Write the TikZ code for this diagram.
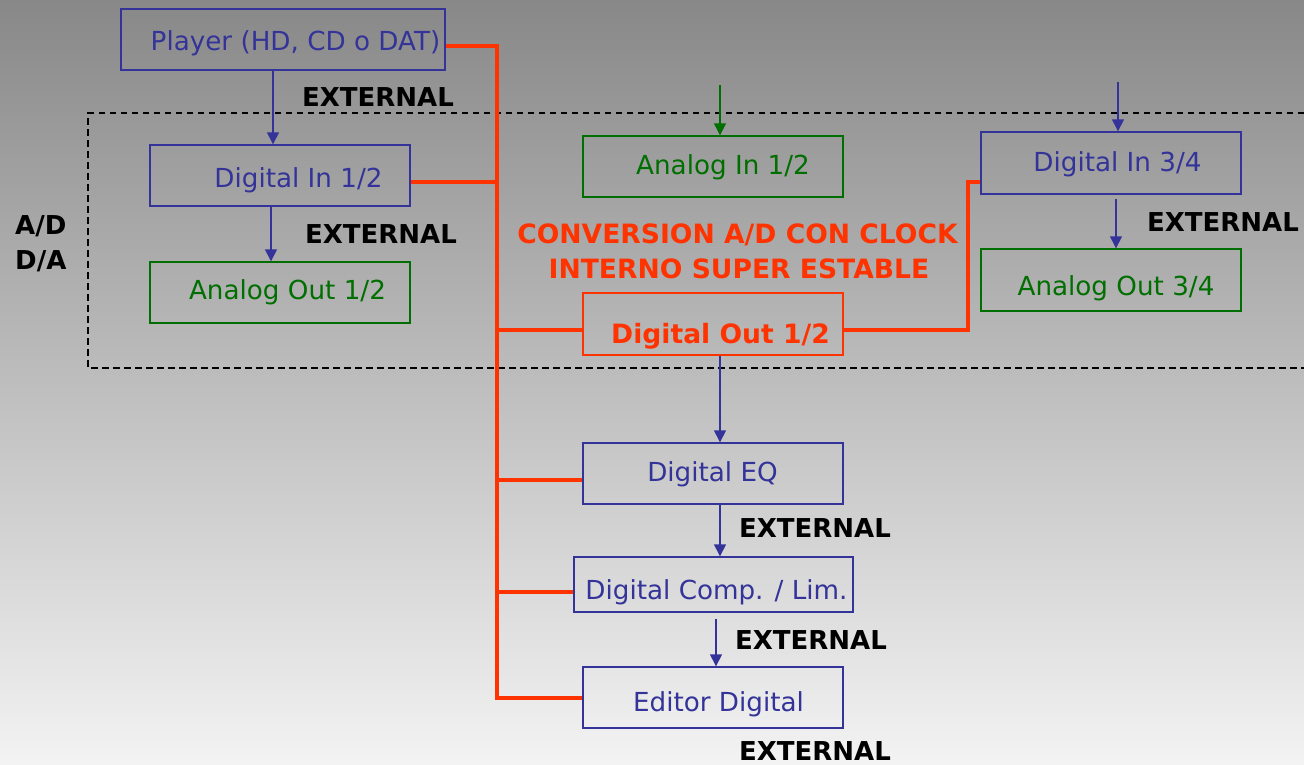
\documentclass[tikz,border=0pt]{standalone}
\usepackage{fontspec}
\setmainfont{DejaVu Sans}
\usetikzlibrary{arrows.meta}

\definecolor{bgtop}{RGB}{136,136,136}
\definecolor{bgbot}{RGB}{243,243,243}
\definecolor{ink}{RGB}{51,51,153}
\definecolor{leaf}{RGB}{0,110,0}
\definecolor{hot}{RGB}{255,51,0}

\tikzset{
  box/.style={draw, line width=1.4pt, inner sep=0pt, minimum width=260pt, minimum height=61pt},
  bluebox/.style={box, draw=ink},
  greenbox/.style={box, draw=leaf},
  hotbox/.style={box, draw=hot},
  txt/.style={anchor=base, inner sep=0pt, font=\fontsize{26.2}{35}\selectfont},
  bluetxt/.style={txt, text=ink},
  greentxt/.style={txt, text=leaf},
  hottxt/.style={txt, text=hot, font=\fontsize{26.6}{35}\selectfont\bfseries},
  ext/.style={txt, text=black, font=\fontsize{26}{35}\selectfont\bfseries},
  flow/.style={draw=ink, line width=1.4pt, -{Triangle[width=12pt,length=12pt]}},
  greenflow/.style={flow, draw=leaf},
  bus/.style={draw=hot, line width=4pt},
  zone/.style={draw=black, line width=1.3pt, dash pattern=on 6.5pt off 4.5pt}
}

\begin{document}
\begin{tikzpicture}[x=1pt,y=-1pt]
  % page and background gradient
  \useasboundingbox (0,0) rectangle (1304,764);
  \fill[top color=bgtop, bottom color=bgbot] (0,0) rectangle (1304,764);

  % A/D - D/A zone
  \draw[zone] (1304,113) -- (88,113) -- (88,368) -- (1304,368);
  \node[ext, anchor=base west] (adlbl) at (15,234) {A/D};
  \node[ext, anchor=base west] (dalbl) at (15,269) {D/A};

  % boxes
  \node[bluebox, minimum width=324pt] (player) at (283,39.5) {};
  \node[bluebox] (din12) at (280,175.5) {};
  \node[greenbox] (aout12) at (280,292.5) {};
  \node[greenbox] (ain12) at (713,166.5) {};
  \node[bluebox, minimum height=62pt] (din34) at (1111,163) {};
  \node[greenbox, minimum height=62pt] (aout34) at (1111,280) {};
  \node[hotbox, minimum height=62pt] (dout) at (713,324) {};
  \node[bluebox] (eq) at (713,473.5) {};
  \node[bluebox, minimum width=279pt, minimum height=55pt] (comp) at (713.5,584.5) {};
  \node[bluebox] (editor) at (713,697.5) {};

  % box texts
  \node[bluetxt] (playert) at (295.5,50) {Player (HD, CD o DAT)};
  \node[bluetxt] (din12t) at (298.5,187) {Digital In 1/2};
  \node[greentxt] (aout12t) at (287.5,299) {Analog Out 1/2};
  \node[greentxt] (ain12t) at (723,174) {Analog In 1/2};
  \node[bluetxt] (din34t) at (1117.5,171) {Digital In 3/4};
  \node[greentxt] (aout34t) at (1116,295) {Analog Out 3/4};
  \node[hottxt] (doutt) at (720.5,343) {Digital Out 1/2};
  \node[bluetxt] (eqt) at (712.5,481) {Digital EQ};
  \node[bluetxt] (compt) at (716.5,599) {Digital Comp. / Lim.};
  \node[bluetxt] (editort) at (718.5,711) {Editor Digital};

  % conversion note
  \node[hottxt] (conv1) at (737.5,243) {CONVERSION A/D CON CLOCK};
  \node[hottxt] (conv2) at (739,278) {INTERNO SUPER ESTABLE};

  % EXTERNAL labels
  \node[ext] (ext1) at (378,106) {EXTERNAL};
  \node[ext] (ext2) at (381,243) {EXTERNAL};
  \node[ext] (ext3) at (1223,231) {EXTERNAL};
  \node[ext] (ext4) at (815,537) {EXTERNAL};
  \node[ext] (ext5) at (811,649) {EXTERNAL};
  \node[ext] (ext6) at (815,760) {EXTERNAL};

  % free ends of incoming arrows
  \coordinate (ainsrc) at (720,85);
  \coordinate (din34src) at (1118,82);
  \coordinate (bus) at (497,0);

  % bus tap points on the box sides
  \coordinate (tplayer) at ([yshift=-6pt]player.east);
  \coordinate (tdin12) at ([yshift=-6pt]din12.east);
  \coordinate (tdoutw) at ([yshift=-6pt]dout.west);
  \coordinate (tdoute) at ([yshift=-6pt]dout.east);
  \coordinate (teq) at ([yshift=-6pt]eq.west);
  \coordinate (tcomp) at ([yshift=-7pt]comp.west);
  \coordinate (tdin34) at ([yshift=-19pt]din34.west);

  % orange digital bus
  \draw[bus] (tplayer) -| (bus |- editor.west) -- (editor.west);
  \draw[bus] (tdin12) -- (bus |- tdin12);
  \draw[bus] (tdoutw) -- (bus |- tdoutw);
  \draw[bus] (teq) -- (bus |- teq);
  \draw[bus] (tcomp) -- (bus |- tcomp);
  \draw[bus] (tdoute) -- ++(124,0) |- (tdin34);

  % signal arrows
  \draw[flow] ([xshift=-10pt]player.south) -- ([xshift=-10pt]player.south |- din12.north);
  \draw[flow] ([xshift=-9pt]din12.south) -- ([xshift=-9pt]din12.south |- aout12.north);
  \draw[greenflow] (ainsrc) -- (ainsrc |- ain12.north);
  \draw[flow] (din34src) -- (din34src |- din34.north);
  \draw[flow] ([xshift=5pt,yshift=-4pt]din34.south) -- ([xshift=5pt]din34.south |- aout34.north);
  \draw[flow] ([xshift=7pt]dout.south) -- ([xshift=7pt]dout.south |- eq.north);
  \draw[flow] ([xshift=7pt]eq.south) -- ([xshift=7pt]eq.south |- comp.north);
  \draw[flow] ([xshift=2.5pt,yshift=-6pt]comp.south) -- ([xshift=2.5pt]comp.south |- editor.north);
\end{tikzpicture}
\end{document}
